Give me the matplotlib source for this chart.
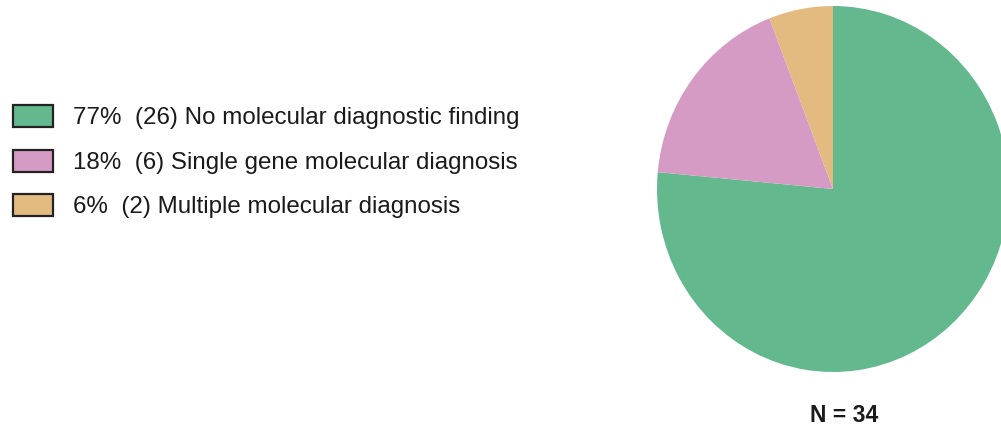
import matplotlib.pyplot as plt
from matplotlib.patches import Patch

# diagnostic yield, n = 34
categories = ['No molecular diagnostic finding', 'Single gene molecular diagnosis', 'Multiple molecular diagnosis']
counts = [26, 6, 2]
percents = [77, 18, 6]
colors = ['#63B88E', '#D69BC5', '#E3BB80']

plt.rcParams['font.family'] = ['Liberation Sans', 'DejaVu Sans']

fig = plt.figure(figsize=(10.01, 4.28), dpi=100, facecolor='w')

# pie sits on the right, partly running off the edge
ax = fig.add_axes([657 / 1001, 1 - 372 / 428, 352 / 1001, 366 / 428])
ax.pie(counts, colors=colors, startangle=90, counterclock=False, radius=1,
       wedgeprops=dict(linewidth=0))
ax.set_aspect('auto')
ax.set_xlim(-1, 1)
ax.set_ylim(-1, 1)
ax.axis('off')

N = sum(counts)
fig.text(844 / 1001, 1 - 415 / 428, 'N = {}'.format(N), ha='center', va='center',
         fontsize=16.5, fontweight='bold', color='#1a1a1a')

handles = [Patch(facecolor=c, edgecolor='#222222', linewidth=1.6) for c in colors]
labels = ['{}%  ({}) {}'.format(p, n, cat) for p, n, cat in zip(percents, counts, categories)]
fig.legend(handles, labels, loc='upper left', bbox_to_anchor=(13 / 1001, 1 - 105 / 428),
           frameon=False, fontsize=17.4, borderpad=0, borderaxespad=0,
           handlelength=1.65, handleheight=1.05, handletextpad=0.82, labelspacing=0.83,
           labelcolor='#1a1a1a')

fig.savefig('out.png', dpi=100, facecolor='w')
